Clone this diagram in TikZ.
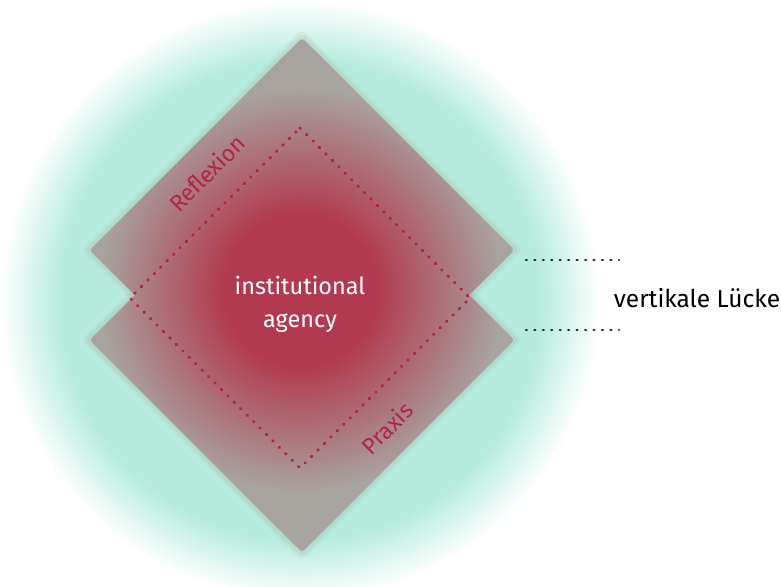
\documentclass[tikz,border=0pt]{standalone}
\usepackage{fontspec}
\setmainfont{Fira Sans}
\usetikzlibrary{positioning}

\definecolor{glowteal}{RGB}{182,236,222}
\definecolor{plategrey}{RGB}{168,164,160}
\definecolor{agencyred}{RGB}{178,58,80}
\definecolor{labelred}{RGB}{178,36,74}

% soft teal disc and the red core of the plates (25bp is the rim)
\pgfdeclareradialshading{glow}{\pgfpoint{0bp}{0bp}}{color(0bp)=(glowteal); color(20bp)=(glowteal); color(25bp)=(white); color(50bp)=(white)}
\pgfdeclareradialshading{core}{\pgfpoint{0bp}{0bp}}{color(0bp)=(agencyred); color(8bp)=(agencyred); color(21bp)=(plategrey); color(50bp)=(plategrey)}

\begin{document}
\begin{tikzpicture}[x=1pt,y=-1pt,
    halo/.style={draw=plategrey, line join=round, opacity=.15},
    plate/.style={fill=plategrey, rounded corners=3pt},
    agencydots/.style={draw=labelred, line width=3pt, line cap=round, dash pattern=on 0.8pt off 8.3pt},
    gapdots/.style={draw=black!85, line width=2.6pt, line cap=round, dash pattern=on 0.8pt off 7.65pt},
    sidelabel/.style={text=labelred, font=\fontsize{23}{27}\selectfont, rotate=45},
    corelabel/.style={text=white, align=center, font=\fontsize{23.5}{33}\selectfont}]
      \def \cx {302}
      \def \half {212}
      \def \rim {170} % half diagonal of the dotted square

      \useasboundingbox (0,0) rectangle (781,586);

      % teal glow
      \shade[shading=glow] (300,300) circle (300);

      % corners of the two plates
      \foreach \cy/\p in {250/up,340/low}
      {
        \coordinate (\p-n) at (\cx,\cy-\half);
        \coordinate (\p-e) at (\cx+\half,\cy);
        \coordinate (\p-s) at (\cx,\cy+\half);
        \coordinate (\p-w) at (\cx-\half,\cy);
      }

      % blurred rims
      \foreach \p in {up,low}
      {
        \draw[halo, line width=12pt] (\p-n) -- (\p-e) -- (\p-s) -- (\p-w) -- cycle;
        \draw[halo, line width=6pt] (\p-n) -- (\p-e) -- (\p-s) -- (\p-w) -- cycle;
      }

      \foreach \p in {up,low}
      {
        \path[plate] (\p-n) -- (\p-e) -- (\p-s) -- (\p-w) -- cycle;
        \begin{scope}
          \clip[rounded corners=3pt] (\p-n) -- (\p-e) -- (\p-s) -- (\p-w) -- cycle;
          \shade[shading=core] (300,290) circle (240);
        \end{scope}
      }

      % dotted square round the agency
      \coordinate (dot-n) at (300,298-\rim);
      \coordinate (dot-e) at (300+\rim,298);
      \coordinate (dot-s) at (300,298+\rim);
      \coordinate (dot-w) at (300-\rim,298);
      \draw[agencydots] (dot-n) -- (dot-e) -- (dot-s) -- (dot-w) -- cycle;

      \node[corelabel] (agency) at (300,304) {institutional\\agency};
      \node[sidelabel] (reflexion) at (207,173) {Reflexion};
      \node[sidelabel] (praxis) at (387,428) {Praxis};

      % vertical gap
      \node[font=\fontsize{24.5}{29}\selectfont] (gap) at (697,298) {vertikale Lücke};
      \coordinate (gapUpA) at (526,260);
      \coordinate (gapUpB) at (619,260);
      \coordinate (gapLowA) at (526,330);
      \coordinate (gapLowB) at (619,330);
      \draw[gapdots] (gapUpA) -- (gapUpB);
      \draw[gapdots] (gapLowA) -- (gapLowB);
\end{tikzpicture}
\end{document}
